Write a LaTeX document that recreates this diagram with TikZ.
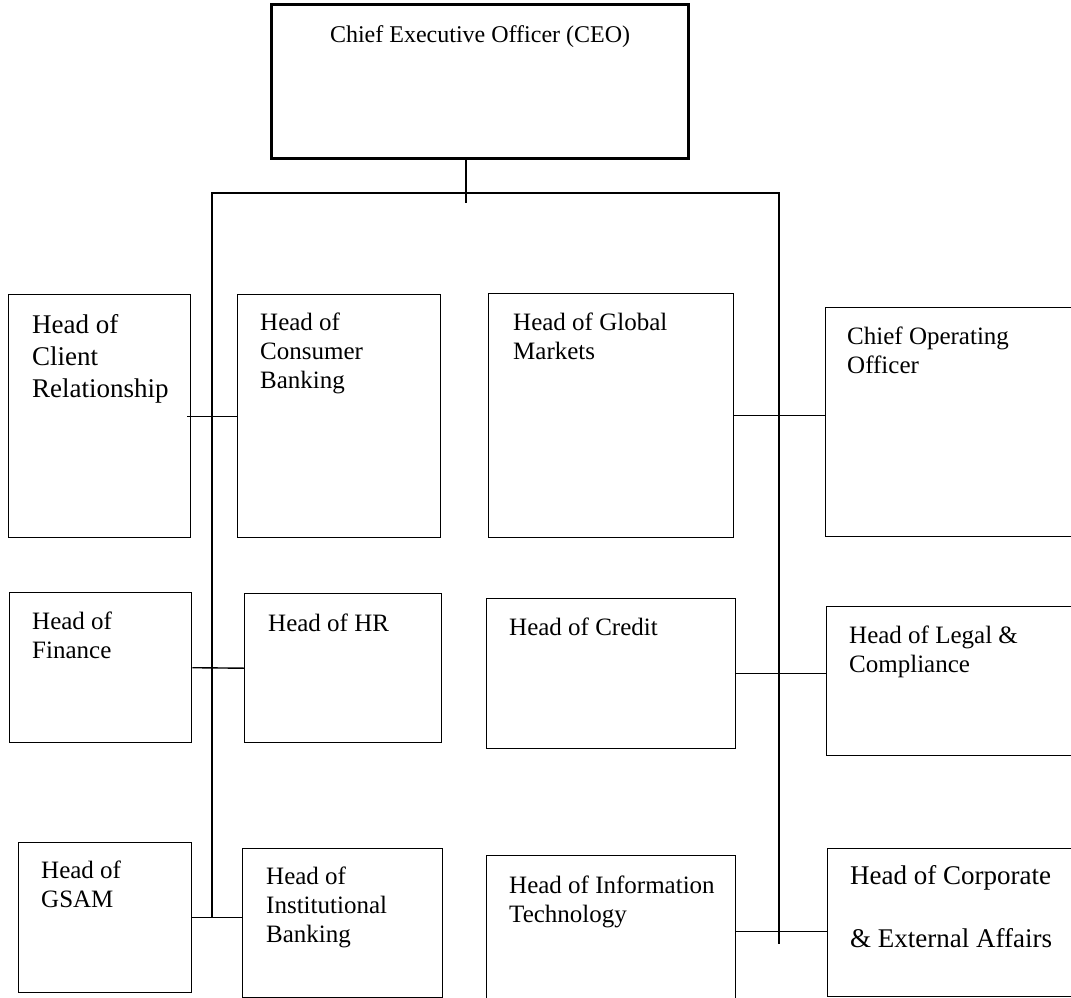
\documentclass[tikz,border=0pt]{standalone}
\usepackage{fontspec}
\setmainfont{Liberation Serif}
\usetikzlibrary{positioning}
\tikzset{
  post/.style={draw, line width=1.4pt, anchor=north west, inner sep=0pt},
  title/.style={anchor=north west, inner sep=0pt, align=left, font=\fontsize{25}{29}\selectfont},
  big/.style={font=\fontsize{27}{32}\selectfont},
  link/.style={line width=1.4pt}
}
\begin{document}
\begin{tikzpicture}[x=1pt, y=-1pt]
    \useasboundingbox (0,0) rectangle (1071,998);

    \node[post, line width=3.2pt, minimum width=417pt, minimum height=154pt] (ceo) at (270,3) {};
    \node[title, below=22pt of ceo.north, font=\fontsize{24}{29}\selectfont] (ceo-t) {Chief Executive Officer (CEO)};

    \node[post, minimum width=182pt, minimum height=243pt] (client) at (8,294) {};
    \node[post, minimum width=203pt, minimum height=243pt] (consumer) at (237,294) {};
    \node[post, minimum width=245pt, minimum height=244pt] (global) at (488,293) {};
    \node[post, minimum width=250pt, minimum height=229pt] (coo) at (825,307) {};

    \node[post, minimum width=182pt, minimum height=150pt] (finance) at (9,592) {};
    \node[post, minimum width=197pt, minimum height=149pt] (hr) at (244,593) {};
    \node[post, minimum width=249pt, minimum height=150pt] (credit) at (486,598) {};
    \node[post, minimum width=249pt, minimum height=149pt] (legal) at (826,606) {};

    \node[post, minimum width=173pt, minimum height=150pt] (gsam) at (18,842) {};
    \node[post, minimum width=200pt, minimum height=149pt] (inst) at (242,848) {};
    \node[post, minimum width=249pt, minimum height=152pt] (it) at (486,855) {};
    \node[post, minimum width=248pt, minimum height=148pt] (corp) at (827,848) {};

    \node[title, big, below right=20pt and 24pt of client.north west] (client-t) {Head of\\Client\\Relationship};
    \node[title, below right=19pt and 23pt of consumer.north west] (consumer-t) {Head of\\Consumer\\Banking};
    \node[title, below right=20pt and 25pt of global.north west] (global-t) {Head of Global\\Markets};
    \node[title, below right=20pt and 22pt of coo.north west] (coo-t) {Chief Operating\\Officer};

    \node[title, below right=20pt and 23pt of finance.north west] (finance-t) {Head of\\Finance};
    \node[title, below right=21pt and 24pt of hr.north west] (hr-t) {Head of HR};
    \node[title, below right=20pt and 23pt of credit.north west] (credit-t) {Head of Credit};
    \node[title, below right=20pt and 23pt of legal.north west] (legal-t) {Head of Legal \&\\Compliance};

    \node[title, below right=19pt and 23pt of gsam.north west] (gsam-t) {Head of\\GSAM};
    \node[title, below right=19pt and 24pt of inst.north west] (inst-t) {Head of\\Institutional\\Banking};
    \node[title, below right=21pt and 23pt of it.north west] (it-t) {Head of Information\\Technology};
    \node[title, big, below right=17pt and 23pt of corp.north west] (corp-t) {Head of Corporate\\[31pt]\& External Affairs};

    \coordinate (hub) at (466,193);
    \coordinate (tl) at (212,193);
    \coordinate (tr) at (779,193);

    \draw[link] (hub |- ceo.south) -- ([yshift=-10pt]hub);
    \draw[link] (tl |- gsam.east) -- (tl) -- (tr) -- ([yshift=-12pt]tr |- it.east);

    \draw[link] ([xshift=-4pt]client.east) -- (consumer.west);
    \draw[link] (finance.east) -- (hr.west);
    \draw[link] (gsam.east) -- (gsam.east -| inst.west);
    \draw[link] (global.east) -- (global.east -| coo.west);
    \draw[link] (credit.east) -- (credit.east -| legal.west);
    \draw[link] (it.east) -- (it.east -| corp.west);
\end{tikzpicture}
\end{document}
